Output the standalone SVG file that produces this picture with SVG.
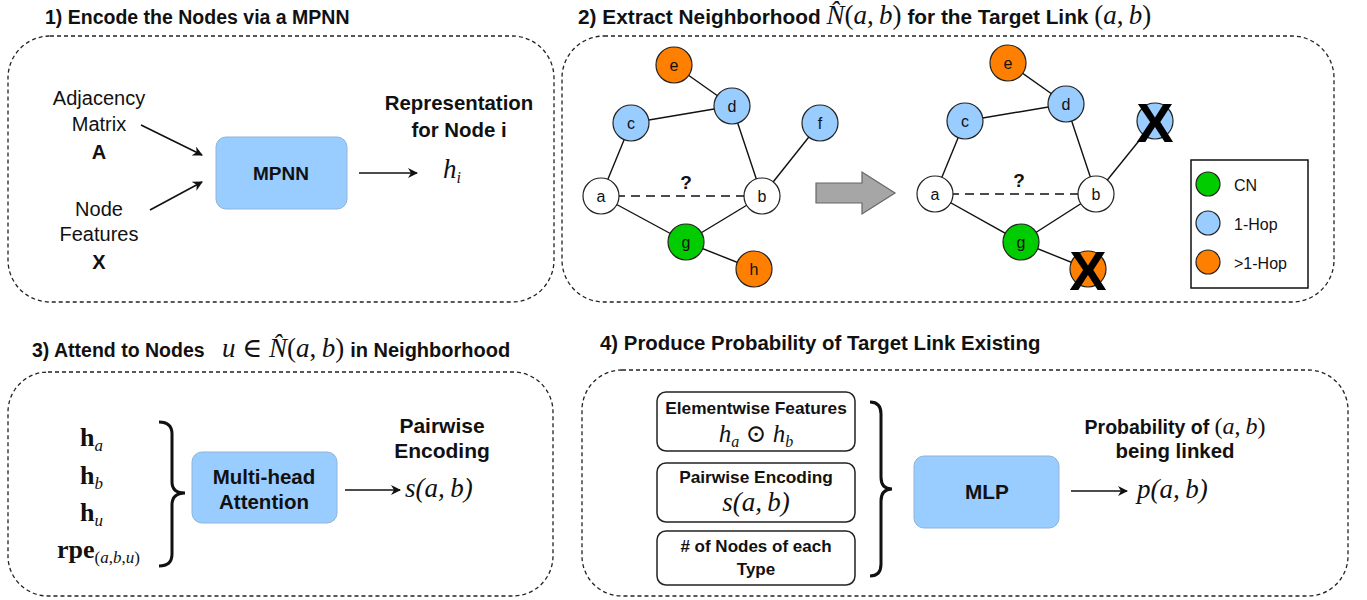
<svg xmlns="http://www.w3.org/2000/svg" width="1367" height="600" viewBox="0 0 1367 600">
<style>
.panel{fill:none;stroke:#222;stroke-width:1.3;stroke-dasharray:4 3}
.title{font-family:"Liberation Sans",Arial,sans-serif;font-weight:bold;fill:#111}
.t{font-family:"Liberation Sans",Arial,sans-serif;font-size:20px;fill:#111;text-anchor:middle}
.tb{font-family:"Liberation Sans",Arial,sans-serif;font-weight:bold;fill:#111;text-anchor:middle}
.m{font-family:"Liberation Serif","DejaVu Serif",serif;font-style:italic;fill:#111}
.mr{font-family:"Liberation Serif","DejaVu Serif",serif;fill:#111}
.tm{font-weight:normal;font-size:27px}
.blue{fill:#99CCFF;stroke:#8fb4d8;stroke-width:1}
.box{fill:#fff;stroke:#222;stroke-width:1.5}
.edge{stroke:#111;stroke-width:1.4;fill:none}
.nd{stroke:#222;stroke-width:1.2}
.nl{font-family:"Liberation Sans",Arial,sans-serif;font-size:16px;fill:#111;text-anchor:middle}
.lg{font-family:"Liberation Sans",Arial,sans-serif;font-size:16px;fill:#111}
.or{fill:#FF8000}.bl{fill:#99CCFF}.gr{fill:#00CC00}.wh{fill:#fff}
.X{font-family:"Liberation Sans",Arial,sans-serif;font-weight:bold;font-size:56px;fill:#000;text-anchor:middle}
.arr{stroke:#111;stroke-width:1.6;fill:none;marker-end:url(#ah)}
.brace{stroke:#111;stroke-width:3;fill:none}
</style>
<defs>
<marker id="ah" markerWidth="10" markerHeight="10" refX="9" refY="5" orient="auto" markerUnits="userSpaceOnUse">
<path d="M0,0 L10,5 L0,10 L3,5 Z" fill="#111"/>
</marker>
</defs>
<rect width="1367" height="600" fill="#fff"/>

<!-- panels -->
<g id="panel1">
<text class="title" x="45" y="24" font-size="19.5">1) Encode the Nodes via a MPNN</text>
<rect class="panel" x="8" y="36" width="546" height="266" rx="42"/>
</g>
<g id="panel2">
<text class="title" x="578" y="24" font-size="20.8">2) Extract Neighborhood <tspan class="m tm">N̂</tspan><tspan class="mr tm">(</tspan><tspan class="m tm">a</tspan><tspan class="mr tm">,&#8201;</tspan><tspan class="m tm">b</tspan><tspan class="mr tm">)</tspan> for the Target Link <tspan class="mr tm">(</tspan><tspan class="m tm">a</tspan><tspan class="mr tm">,&#8201;</tspan><tspan class="m tm">b</tspan><tspan class="mr tm">)</tspan></text>
<rect class="panel" x="562" y="36" width="772" height="266" rx="42"/>
</g>
<g id="panel3">
<text class="title" x="32" y="357" font-size="19.5">3) Attend to Nodes <tspan class="m tm" dx="12">u</tspan><tspan class="mr tm"> ∈ </tspan><tspan class="m tm">N̂</tspan><tspan class="mr tm">(</tspan><tspan class="m tm">a</tspan><tspan class="mr tm">,&#8201;</tspan><tspan class="m tm">b</tspan><tspan class="mr tm">)</tspan><tspan dx="6" font-size="20">in Neighborhood</tspan></text>
<rect class="panel" x="8" y="372" width="545" height="224" rx="40"/>
</g>
<g id="panel4">
<text class="title" x="600" y="350" font-size="20.4">4) Produce Probability of Target Link Existing</text>
<rect class="panel" x="582" y="370" width="766" height="226" rx="40"/>
</g>

<!-- panel 1 nodes -->
<g id="inputA">
<text class="t" x="99" y="105">Adjacency</text>
<text class="t" x="99" y="131">Matrix</text>
<text class="tb" x="99" y="159" font-size="20">A</text>
</g>
<g id="inputX">
<text class="t" x="99" y="216">Node</text>
<text class="t" x="99" y="241">Features</text>
<text class="tb" x="99" y="269" font-size="20">X</text>
</g>
<g id="mpnn">
<rect class="blue" x="216" y="137" width="131" height="72" rx="10"/>
<text class="tb" x="281" y="180" font-size="19">MPNN</text>
</g>
<g id="repr">
<text class="tb" x="459" y="110" font-size="20.4">Representation</text>
<text class="tb" x="459" y="137" font-size="20.4">for Node i</text>
<text class="m" x="443" y="178" font-size="27">h<tspan font-size="16" dy="5">i</tspan></text>
</g>

<!-- panel 2 graphs -->
<g id="graph-left">
<g class="edges">
<line class="edge" x1="674" y1="65" x2="732" y2="106"/>
<line class="edge" x1="631" y1="123" x2="732" y2="106"/>
<line class="edge" x1="631" y1="123" x2="601" y2="196"/>
<line class="edge" x1="732" y1="106" x2="762" y2="196"/>
<line class="edge" x1="820" y1="123" x2="762" y2="196"/>
<line class="edge" x1="601" y1="196" x2="686" y2="242"/>
<line class="edge" x1="762" y1="196" x2="686" y2="242"/>
<line class="edge" x1="686" y1="242" x2="754" y2="269"/>
<line class="edge" x1="601" y1="196" x2="762" y2="196" stroke-dasharray="9 6"/>
</g>
<text class="tb" x="686" y="189" font-size="19">?</text>
<g id="L-e"><circle class="nd or" cx="674" cy="65" r="18"/><text class="nl" x="674" y="71">e</text></g>
<g id="L-d"><circle class="nd bl" cx="732" cy="106" r="18"/><text class="nl" x="732" y="112">d</text></g>
<g id="L-c"><circle class="nd bl" cx="631" cy="123" r="18"/><text class="nl" x="631" y="129">c</text></g>
<g id="L-f"><circle class="nd bl" cx="820" cy="123" r="18"/><text class="nl" x="820" y="129">f</text></g>
<g id="L-a"><circle class="nd wh" cx="601" cy="196" r="18"/><text class="nl" x="601" y="202">a</text></g>
<g id="L-b"><circle class="nd wh" cx="762" cy="196" r="18"/><text class="nl" x="762" y="202">b</text></g>
<g id="L-g"><circle class="nd gr" cx="686" cy="242" r="18"/><text class="nl" x="686" y="248">g</text></g>
<g id="L-h"><circle class="nd or" cx="754" cy="269" r="18"/><text class="nl" x="754" y="275">h</text></g>
</g>

<g id="big-arrow">
<path d="M816,183 L862,183 L862,172 L895,193 L862,214 L862,203 L816,203 Z" fill="#A6A6A6" stroke="#666" stroke-width="1.2"/>
</g>

<g id="graph-right">
<g class="edges">
<line class="edge" x1="1008" y1="63" x2="1066" y2="104"/>
<line class="edge" x1="965" y1="121" x2="1066" y2="104"/>
<line class="edge" x1="965" y1="121" x2="935" y2="194"/>
<line class="edge" x1="1066" y1="104" x2="1096" y2="194"/>
<line class="edge" x1="1155" y1="121" x2="1096" y2="194"/>
<line class="edge" x1="935" y1="194" x2="1021" y2="242"/>
<line class="edge" x1="1096" y1="194" x2="1021" y2="242"/>
<line class="edge" x1="1021" y1="242" x2="1088" y2="269"/>
<line class="edge" x1="935" y1="194" x2="1096" y2="194" stroke-dasharray="9 6"/>
</g>
<text class="tb" x="1019" y="187" font-size="19">?</text>
<g id="R-e"><circle class="nd or" cx="1008" cy="63" r="18"/><text class="nl" x="1008" y="69">e</text></g>
<g id="R-d"><circle class="nd bl" cx="1066" cy="104" r="18"/><text class="nl" x="1066" y="110">d</text></g>
<g id="R-c"><circle class="nd bl" cx="965" cy="121" r="18"/><text class="nl" x="965" y="127">c</text></g>
<g id="R-f"><circle class="nd bl" cx="1155" cy="121" r="18"/><text class="X" x="1155" y="142">X</text></g>
<g id="R-a"><circle class="nd wh" cx="935" cy="194" r="18"/><text class="nl" x="935" y="200">a</text></g>
<g id="R-b"><circle class="nd wh" cx="1096" cy="194" r="18"/><text class="nl" x="1096" y="200">b</text></g>
<g id="R-g"><circle class="nd gr" cx="1021" cy="242" r="18"/><text class="nl" x="1021" y="248">g</text></g>
<g id="R-h"><circle class="nd or" cx="1088" cy="269" r="18"/><text class="X" x="1088" y="290">X</text></g>
</g>

<g id="legend">
<rect x="1191" y="160" width="117" height="128" fill="#fff" stroke="#111" stroke-width="1.5"/>
<circle class="nd gr" cx="1208" cy="184" r="12"/>
<circle class="nd bl" cx="1208" cy="223" r="12"/>
<circle class="nd or" cx="1208" cy="262" r="12"/>
<text class="lg" x="1234" y="191">CN</text>
<text class="lg" x="1234" y="230">1-Hop</text>
<text class="lg" x="1234" y="269">&gt;1-Hop</text>
</g>

<!-- panel 3 -->
<g id="inputs3">
<text class="mr" x="80" y="446" font-size="26" font-weight="bold">h<tspan class="m" font-weight="normal" font-size="17" dy="5">a</tspan></text>
<text class="mr" x="80" y="484" font-size="26" font-weight="bold">h<tspan class="m" font-weight="normal" font-size="17" dy="5">b</tspan></text>
<text class="mr" x="80" y="521" font-size="26" font-weight="bold">h<tspan class="m" font-weight="normal" font-size="17" dy="5">u</tspan></text>
<text class="mr" x="57" y="558" font-size="26" font-weight="bold">rpe<tspan font-weight="normal" font-size="17" dy="5">(<tspan class="m">a</tspan>,<tspan class="m">b</tspan>,<tspan class="m">u</tspan>)</tspan></text>
<path class="brace" d="M159,422 Q172,422 172,434 L172,482 Q172,493 185,493 Q172,493 172,505 L172,554 Q172,566 159,566"/>
</g>
<g id="mha">
<rect class="blue" x="192" y="452" width="145" height="71" rx="10"/>
<text class="tb" x="264" y="484" font-size="20.5">Multi-head</text>
<text class="tb" x="264" y="509" font-size="20.5">Attention</text>
</g>
<g id="pairwise">
<text class="tb" x="442" y="433" font-size="21">Pairwise</text>
<text class="tb" x="442" y="458" font-size="21">Encoding</text>
<text class="m" x="405" y="497" font-size="27">s<tspan class="mr">(</tspan>a<tspan class="mr">,&#8201;</tspan>b<tspan class="mr">)</tspan></text>
</g>

<!-- panel 4 -->
<g id="elem">
<rect class="box" x="657" y="392" width="198" height="59" rx="9"/>
<text class="tb" x="756" y="414" font-size="17.3">Elementwise Features</text>
<text class="m" x="756" y="442" font-size="25" text-anchor="middle">h<tspan font-size="16" dy="5">a</tspan><tspan class="mr" dy="-5"> ⊙ </tspan>h<tspan font-size="16" dy="5">b</tspan></text>
</g>
<g id="pe">
<rect class="box" x="657" y="463" width="198" height="59" rx="9"/>
<text class="tb" x="756" y="483" font-size="17.3">Pairwise Encoding</text>
<text class="m" x="756" y="511" font-size="27" text-anchor="middle">s<tspan class="mr">(</tspan>a<tspan class="mr">,&#8201;</tspan>b<tspan class="mr">)</tspan></text>
</g>
<g id="count">
<rect class="box" x="657" y="531" width="198" height="54" rx="9"/>
<text class="tb" x="756" y="552" font-size="17">#&#160;of Nodes of each</text>
<text class="tb" x="756" y="575" font-size="17">Type</text>
</g>
<path class="brace" d="M870,402 Q881,402 881,414 L881,477 Q881,489 892,489 Q881,489 881,501 L881,564 Q881,576 870,576"/>
<g id="mlp">
<rect class="blue" x="914" y="456" width="145" height="72" rx="10"/>
<text class="tb" x="987" y="499" font-size="20.8">MLP</text>
</g>
<g id="prob">
<text class="tb" x="1175" y="434" font-size="19.5">Probability of <tspan class="mr" font-weight="normal" font-size="24">(</tspan><tspan class="m" font-weight="normal" font-size="24">a</tspan><tspan class="mr" font-weight="normal" font-size="24">,&#8201;</tspan><tspan class="m" font-weight="normal" font-size="24">b</tspan><tspan class="mr" font-weight="normal" font-size="24">)</tspan></text>
<text class="tb" x="1175" y="458" font-size="20.4">being linked</text>
<text class="m" x="1137" y="498" font-size="27">p<tspan class="mr">(</tspan>a<tspan class="mr">,&#8201;</tspan>b<tspan class="mr">)</tspan></text>
</g>

<!-- connectors -->
<g id="connectors">
<line class="arr" x1="141" y1="125" x2="202" y2="155"/>
<line class="arr" x1="150" y1="210" x2="202" y2="182"/>
<line class="arr" x1="359" y1="173" x2="417" y2="173"/>
<line class="arr" x1="345" y1="490" x2="400" y2="490"/>
<line class="arr" x1="1071" y1="491" x2="1127" y2="491"/>
</g>
</svg>
